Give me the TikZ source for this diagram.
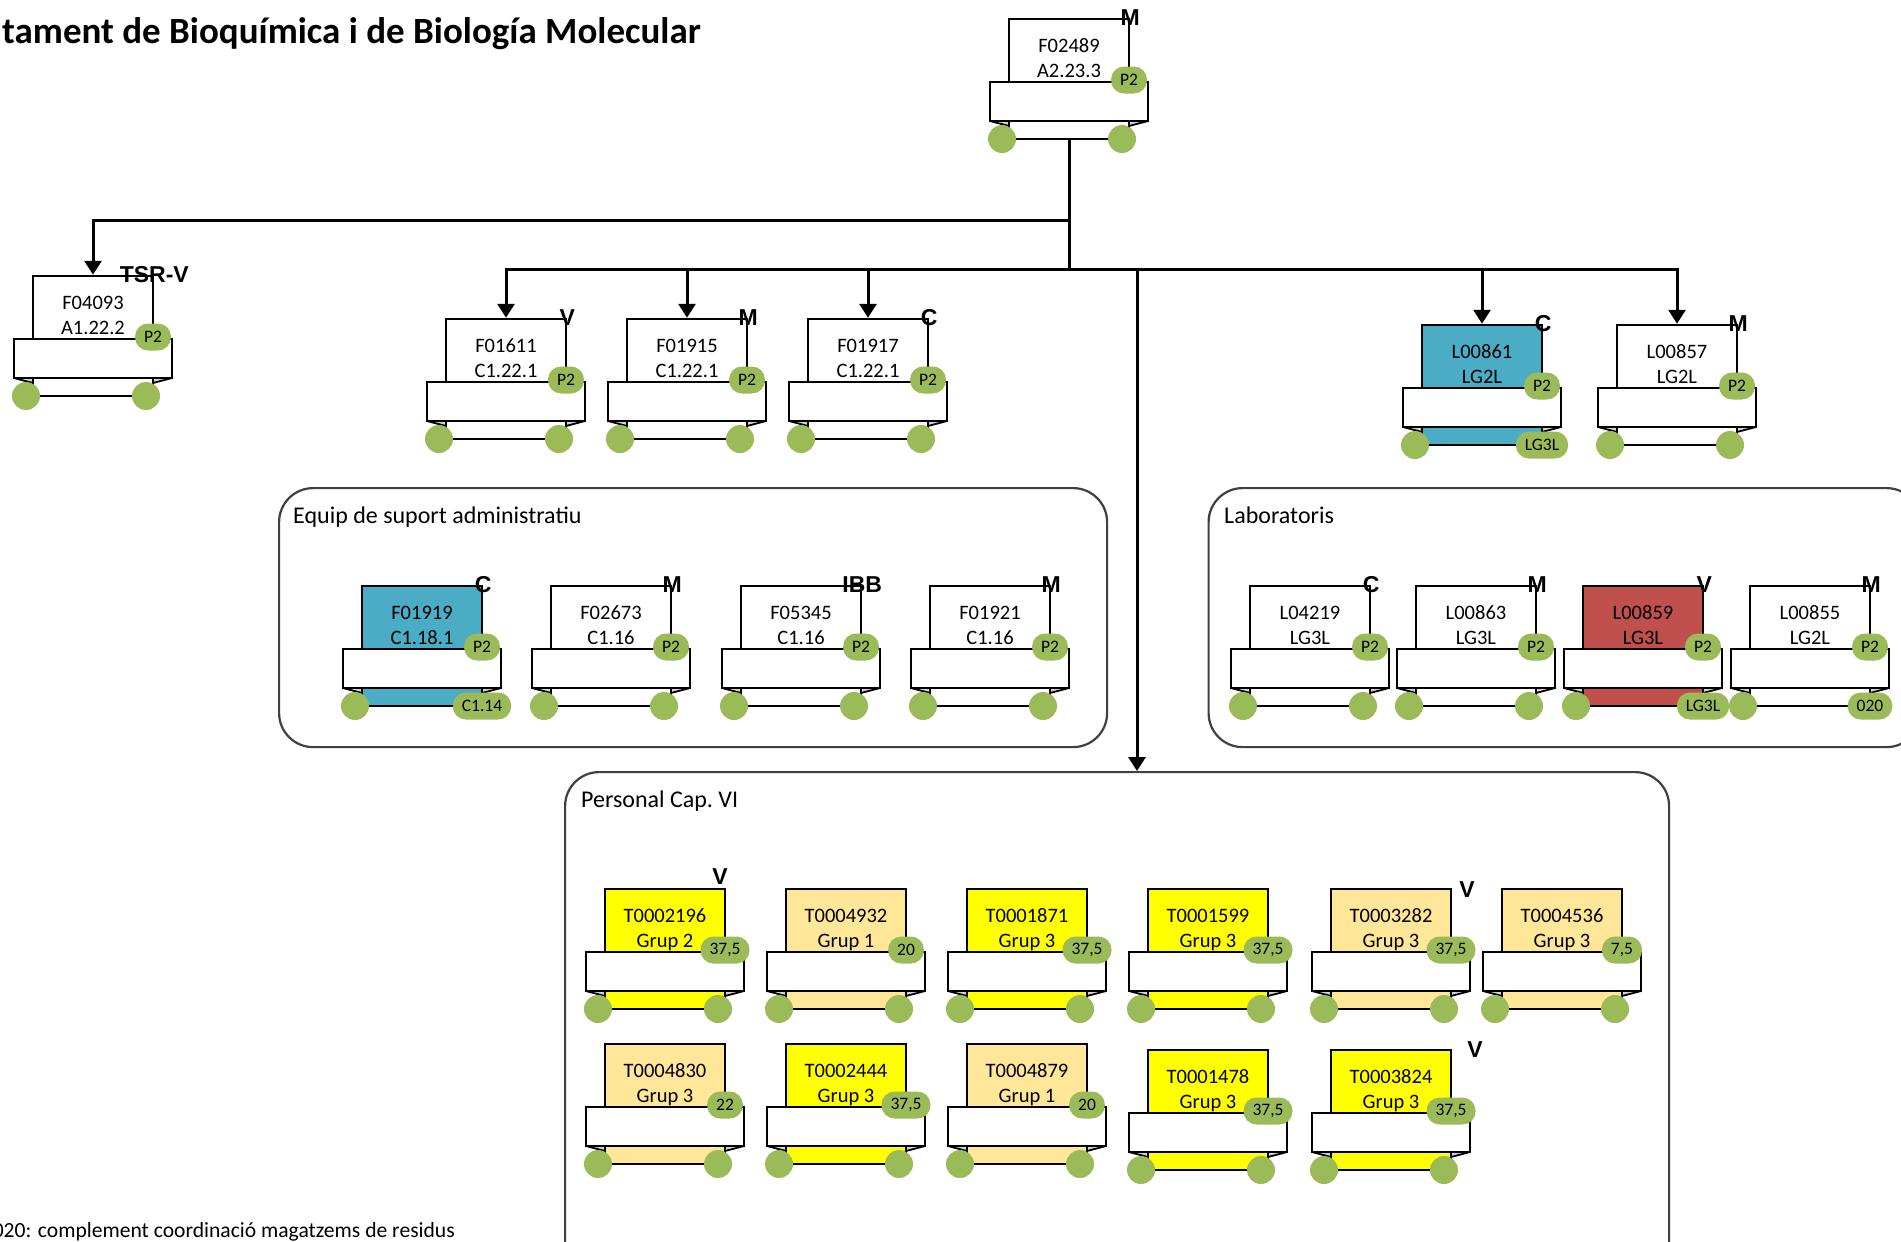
\documentclass[tikz,border=0pt]{standalone}
\usepackage{fontspec}
\setmainfont{Carlito}
\newfontfamily\letfont{Liberation Sans}
\usetikzlibrary{arrows.meta}
\definecolor{cyel}{HTML}{FFFF00}
\definecolor{corg}{HTML}{FFE699}
\definecolor{cblu}{HTML}{4BACC6}
\definecolor{cred}{HTML}{C0504D}
\definecolor{cgrn}{HTML}{9BBB59}
\definecolor{cfold}{HTML}{D3D3D3}
\definecolor{cgrp}{HTML}{404040}
\tikzset{
  cardbox/.style={draw=black, line width=2.5pt, minimum width=120pt, minimum height=120pt, inner sep=0pt},
  band/.style={draw=black, fill=white, line width=2.5pt, minimum width=158pt, minimum height=39pt, inner sep=0pt},
  fold/.style={fill=cfold, draw=black, line width=1.8pt, line join=round},
  cardtxt/.style={font=\fontsize{20.5}{24}\selectfont, inner sep=0pt, anchor=base},
  badge/.style={fill=cgrn, rounded corners=13pt, minimum height=27pt, inner xsep=9pt, inner ysep=0pt, font=\fontsize{17.5}{20}\selectfont},
  wheel/.style={circle, fill=cgrn, minimum size=28pt, inner sep=0pt},
  corner/.style={font=\letfont\bfseries\fontsize{23}{26}\selectfont, inner sep=0pt},
  groupbox/.style={draw=cgrp, line width=2.2pt, rounded corners=34pt, inner sep=0pt, anchor=north west},
  grouplbl/.style={font=\fontsize{24}{28}\selectfont, anchor=base west, inner sep=0pt},
  conn/.style={line width=3pt, draw=black},
  arr/.style={conn, -{Triangle[width=17pt,length=14pt]}},
}
\newcommand\card[8]{%
  \node[cardbox, fill=#4] (#1) at ({#2+60},{#3+60}) {};
  \node[band] (#1-b) at ({#2+60},{#3+82.5}) {};
  \filldraw[fold] ({#2-19},{#3+102}) -- ({#2},{#3+107}) -- ({#2},{#3+102}) -- cycle;
  \filldraw[fold] ({#2+139},{#3+102}) -- ({#2+120},{#3+107}) -- ({#2+120},{#3+102}) -- cycle;
  \node[cardtxt] (#1-t1) at ({#2+60},{#3+33}) {#5};
  \node[cardtxt] (#1-t2) at ({#2+60},{#3+58}) {#6};
  \node[badge] (#1-p) at ({#2+120},{#3+61}) {#7};
  \node[wheel] (#1-wl) at ({#2-7},{#3+120}) {};
  \ifx&#8&%
    \node[wheel] (#1-wr) at ({#2+113},{#3+120}) {};
  \else
    \node[badge] (#1-wr) at ({#2+120},{#3+120}) {#8};
  \fi
}
\newcommand\cornerlab[2]{\node[corner] (#1-c) at (#1.north east) {#2};}
\begin{document}
\begin{tikzpicture}[x=1pt,y=-1pt]
\useasboundingbox (0,0) rectangle (1901,1242);
% title and footer
\node[font=\bfseries\fontsize{37}{44}\selectfont, anchor=base east, inner sep=0pt] (title) at (701,43) {tament de Bioquímica i de Biología Molecular};
\node[font=\fontsize{21.6}{25}\selectfont, anchor=base east, inner sep=0pt] (foot) at (455,1237) {020: complement coordinació magatzems de residus};
% group boxes
\node[groupbox, minimum width=828pt, minimum height=259pt] (equip) at (278,487) {};
\node[grouplbl] (equip-l) at (293,523) {Equip de suport administratiu};
\node[groupbox, minimum width=712pt, minimum height=259pt] (labs) at (1207.5,487) {};
\node[grouplbl] (labs-l) at (1224,523) {Laboratoris};
\node[groupbox, minimum width=1104pt, minimum height=560pt] (pers) at (564,771) {};
\node[grouplbl] (pers-l) at (581,807) {Personal Cap.\ VI};
% top level
\card{F02489}{1009}{19}{white}{F02489}{A2.23.3}{P2}{}
\card{F04093}{33}{276}{white}{F04093}{A1.22.2}{P2}{}
\card{F01611}{446}{319}{white}{F01611}{C1.22.1}{P2}{}
\card{F01915}{627}{319}{white}{F01915}{C1.22.1}{P2}{}
\card{F01917}{808}{319}{white}{F01917}{C1.22.1}{P2}{}
\card{L00861}{1422}{325}{cblu}{L00861}{LG2L}{P2}{LG3L}
\card{L00857}{1617}{325}{white}{L00857}{LG2L}{P2}{}
% equip
\card{F01919}{362}{586}{cblu}{F01919}{C1.18.1}{P2}{C1.14}
\card{F02673}{551}{586}{white}{F02673}{C1.16}{P2}{}
\card{F05345}{741}{586}{white}{F05345}{C1.16}{P2}{}
\card{F01921}{930}{586}{white}{F01921}{C1.16}{P2}{}
% labs
\card{L04219}{1250}{586}{white}{L04219}{LG3L}{P2}{}
\card{L00863}{1416}{586}{white}{L00863}{LG3L}{P2}{}
\card{L00859}{1583}{586}{cred}{L00859}{LG3L}{P2}{LG3L}
\card{L00855}{1750}{586}{white}{L00855}{LG2L}{P2}{020}
% personal
\card{T0002196}{605}{889}{cyel}{T0002196}{Grup 2}{37,5}{}
\card{T0004932}{786}{889}{corg}{T0004932}{Grup 1}{20}{}
\card{T0001871}{967}{889}{cyel}{T0001871}{Grup 3}{37,5}{}
\card{T0001599}{1148}{889}{cyel}{T0001599}{Grup 3}{37,5}{}
\card{T0003282}{1331}{889}{corg}{T0003282}{Grup 3}{37,5}{}
\card{T0004536}{1502}{889}{corg}{T0004536}{Grup 3}{7,5}{}
\card{T0004830}{605}{1044}{corg}{T0004830}{Grup 3}{22}{}
\card{T0002444}{786}{1044}{cyel}{T0002444}{Grup 3}{37,5}{}
\card{T0004879}{967}{1044}{corg}{T0004879}{Grup 1}{20}{}
\card{T0001478}{1148}{1050}{cyel}{T0001478}{Grup 3}{37,5}{}
\card{T0003824}{1331}{1050}{cyel}{T0003824}{Grup 3}{37,5}{}
% corner letters
\cornerlab{F02489}{M}
\cornerlab{F04093}{TSR-V}
\cornerlab{F01611}{V}
\cornerlab{F01915}{M}
\cornerlab{F01917}{C}
\cornerlab{L00861}{C}
\cornerlab{L00857}{M}
\cornerlab{F01919}{C}
\cornerlab{F02673}{M}
\cornerlab{F05345}{IBB}
\cornerlab{F01921}{M}
\cornerlab{L04219}{C}
\cornerlab{L00863}{M}
\cornerlab{L00859}{V}
\cornerlab{L00855}{M}
\node[corner] (T0002196-c) at (720,877) {V};
\node[corner] (T0003282-c) at (1467,890) {V};
\node[corner] (T0003824-c) at (1475,1050) {V};
% connectors
\coordinate (j1) at (1069,220.5);
\coordinate (j2) at (1069,269);
\coordinate (j3) at (1137,269);
\draw[conn] (F02489.south) -- (j2);
\draw[arr] (j1) -| (F04093.north);
\draw[arr] (j2) -| (F01611.north);
\draw[arr] (j2) -| (F01915.north);
\draw[arr] (j2) -| (F01917.north);
\draw[arr] (j2) -| (L00861.north);
\draw[arr] (j2) -| (L00857.north);
\draw[arr] (j3) -- (j3 |- pers.north);
\end{tikzpicture}
\end{document}
